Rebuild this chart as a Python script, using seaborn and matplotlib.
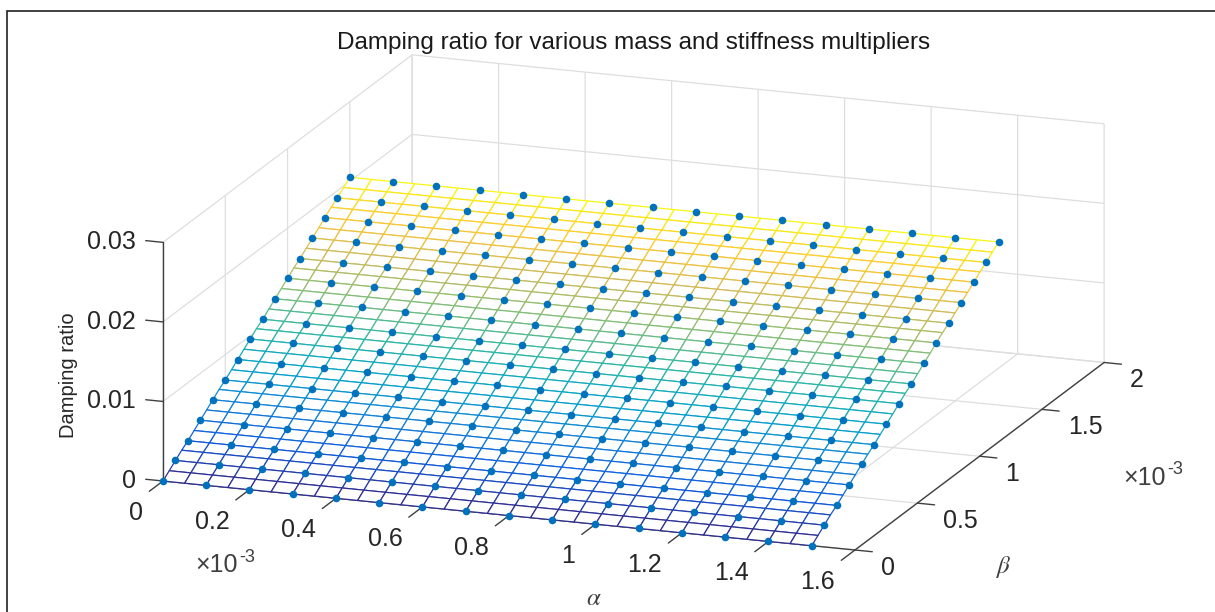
import matplotlib
matplotlib.use('Agg')
import numpy as np
import matplotlib.pyplot as plt
import seaborn as sns
from mpl_toolkits.mplot3d import proj3d

alpha_mesh = [0.00, 0.05, 0.10, 0.15, 0.20, 0.25, 0.30, 0.35, 0.40, 0.45, 0.50, 0.55, 0.60, 0.65, 0.70, 0.75,
              0.80, 0.85, 0.90, 0.95, 1.00, 1.05, 1.10, 1.15, 1.20, 1.25, 1.30, 1.35, 1.40, 1.45, 1.50]
beta_mesh = [0.00, 0.05, 0.10, 0.15, 0.20, 0.25, 0.30, 0.35, 0.40, 0.45, 0.50, 0.55, 0.60, 0.65, 0.70, 0.75,
             0.80, 0.85, 0.90, 0.95, 1.00, 1.05, 1.10, 1.15, 1.20, 1.25, 1.30, 1.35, 1.40, 1.45, 1.50]
# damping ratio read along beta, it hardly moves with alpha
damping = [0.0000, 0.0007, 0.0014, 0.0021, 0.0027, 0.0034, 0.0041, 0.0048, 0.0055, 0.0062, 0.0068,
           0.0075, 0.0082, 0.0089, 0.0096, 0.0103, 0.0109, 0.0116, 0.0123, 0.0130, 0.0137,
           0.0144, 0.0150, 0.0157, 0.0164, 0.0171, 0.0178, 0.0185, 0.0191, 0.0198, 0.0205]

alpha_ticks = [0, 0.2, 0.4, 0.6, 0.8, 1, 1.2, 1.4, 1.6]
beta_ticks = [0, 0.5, 1, 1.5, 2]
z_ticks = [0, 0.01, 0.02, 0.03]
alpha_labels = ['0', '0.2', '0.4', '0.6', '0.8', '1', '1.2', '1.4', '1.6']
beta_labels = ['0', '0.5', '1', '1.5', '2']
z_labels = ['0', '0.01', '0.02', '0.03']

W, H = 1215, 612
sns.set_theme(style='white')
plt.rcParams['font.family'] = ['Liberation Sans', 'DejaVu Sans']

# parula style colormap
parula = sns.blend_palette(['#352A87', '#0F5CDD', '#1481D6', '#06A4CA', '#2EB7A4',
                            '#87BF77', '#D1BB59', '#FEC832', '#F9FB0E'], as_cmap=True)

fig = plt.figure(figsize=(W / 100, H / 100), dpi=100, facecolor='white')
ax = fig.add_axes([0.1, -0.3, 1000 / W, 1000 / H], projection='3d', proj_type='ortho')
ax.patch.set_alpha(0)
ax.computed_zorder = False
ax.view_init(elev=15.9, azim=-70)
ax.set_xlim(0, 1.6, view_margin=0)
ax.set_ylim(0, 2, view_margin=0)
ax.set_zlim(0, 0.03, view_margin=0)
ax.set_xticks(alpha_ticks)
ax.set_yticks(beta_ticks)
ax.set_zticks(z_ticks)
ax.set_xticklabels([])
ax.set_yticklabels([])
ax.set_zticklabels([])

# mplot3d keeps the z axis on the wrong side here, so axis lines and ticks are drawn below
for axis in [ax.xaxis, ax.yaxis, ax.zaxis]:
    axis.set_pane_color((1, 1, 1, 0))
    axis.pane.set_edgecolor('#dcdcdc')
    axis.line.set_color((1, 1, 1, 0))
    axis._axinfo['grid'].update(color='#dedede', linewidth=0.9)
    axis._axinfo['tick'].update(inward_factor=0, outward_factor=0)
ax.tick_params(colors=(1, 1, 1, 0))
ax.grid(True)

line_col = '#404040'
line_kw = dict(color=line_col, linewidth=1.0, zorder=0.5, clip_on=False)
ax.plot([0, 1.6], [0, 0], [0, 0], **line_kw)
ax.plot([1.6, 1.6], [0, 2], [0, 0], **line_kw)
ax.plot([0, 0], [0, 0], [0, 0.03], **line_kw)
for t in alpha_ticks:
    ax.plot([t, t], [0, -0.11], [0, 0], **line_kw)
for t in beta_ticks:
    ax.plot([1.6, 1.64], [t, t], [0, 0], **line_kw)
for t in z_ticks:
    ax.plot([0, -0.04], [0, 0], [t, t], **line_kw)

A, B = np.meshgrid(alpha_mesh, beta_mesh)
Z = np.tile(np.array(damping)[:, None], (1, len(alpha_mesh)))
surf = ax.plot_surface(A, B, Z, rstride=1, cstride=1, color='white', shade=False,
                       linewidth=0.9, antialiased=True, zorder=1)
face_z = (Z[:-1, :-1] + Z[1:, 1:]) / 2
surf.set_edgecolor(parula(face_z.ravel() / max(damping)))
surf.set_facecolor('white')
surf.set_clip_on(False)

Ad, Bd = np.meshgrid(alpha_mesh[::2], beta_mesh[::2])
Zd = Z[::2, ::2]
dots = ax.scatter(Ad.ravel(), Bd.ravel(), Zd.ravel(), s=30, c='#0072BD', linewidths=0,
                  depthshade=False, zorder=2)
dots.set_clip_on(False)


def to_px(x, y, z):
    # data point to image pixel, y counted from the top
    u, v, _ = proj3d.proj_transform(x, y, z, ax.get_proj())
    p = ax.transData.transform((u, v))
    return p[0], H - p[1]


# scale and shift the box so its corners land where the reference has them
box = (736, 728, 248)
ax.set_box_aspect(box)
fig.canvas.draw()
x0, _ = to_px(0, 0, 0)
x1, _ = to_px(1.6, 0, 0)
ax.set_box_aspect(box, zoom=692 / (x1 - x0))
fig.canvas.draw()
x0, y0 = to_px(0, 0, 0)
pos = ax.get_position()
ax.set_position([pos.x0 + (163 - x0) / W, pos.y0 - (481 - y0) / H, pos.width, pos.height])
fig.canvas.draw()


def put(px, py, s, **kw):
    fig.text(px / W, 1 - py / H, s, **kw)


tick_col = '#262626'
for t, lab in zip(alpha_ticks, alpha_labels):
    px, py = to_px(t, 0, 0)
    put(px - 20, py + 32, lab, fontsize=18, color=tick_col, ha='right', va='center')
for t, lab in zip(beta_ticks, beta_labels):
    px, py = to_px(1.6, t, 0)
    put(px + 26, py + 18, lab, fontsize=18, color=tick_col, ha='left', va='center')
for t, lab in zip(z_ticks, z_labels):
    px, py = to_px(0, 0, t)
    put(px - 27, py, lab, fontsize=18, color=tick_col, ha='right', va='center')

put(634, 43, 'Damping ratio for various mass and stiffness multipliers', fontsize=17.5, color='#1a1a1a',
    ha='center', va='center')
put(68, 375, 'Damping ratio', fontsize=14.5, color='#262626', rotation=90, ha='center', va='center')
put(594, 598, r'$\alpha$', fontsize=18, color='#404040', ha='center', va='center', math_fontfamily='stix')
put(1003, 567, r'$\beta$', fontsize=18, color='#404040', ha='center', va='center', math_fontfamily='stix')

# exponent notes on alpha and beta axes
put(195, 565, '×10', fontsize=18, color='#404040', ha='left', va='center')
put(239, 557, '-3', fontsize=13, color='#404040', ha='left', va='center')
put(1123, 478, '×10', fontsize=18, color='#404040', ha='left', va='center')
put(1167, 470, '-3', fontsize=13, color='#404040', ha='left', va='center')

# outer frame, runs off the bottom and right of the image
fig.add_artist(plt.Rectangle((7 / W, -0.1), 1.1, 1.1 - 11 / H, transform=fig.transFigure,
                             fill=False, edgecolor='#222222', linewidth=1.2))

fig.savefig('out.png', dpi=100)
